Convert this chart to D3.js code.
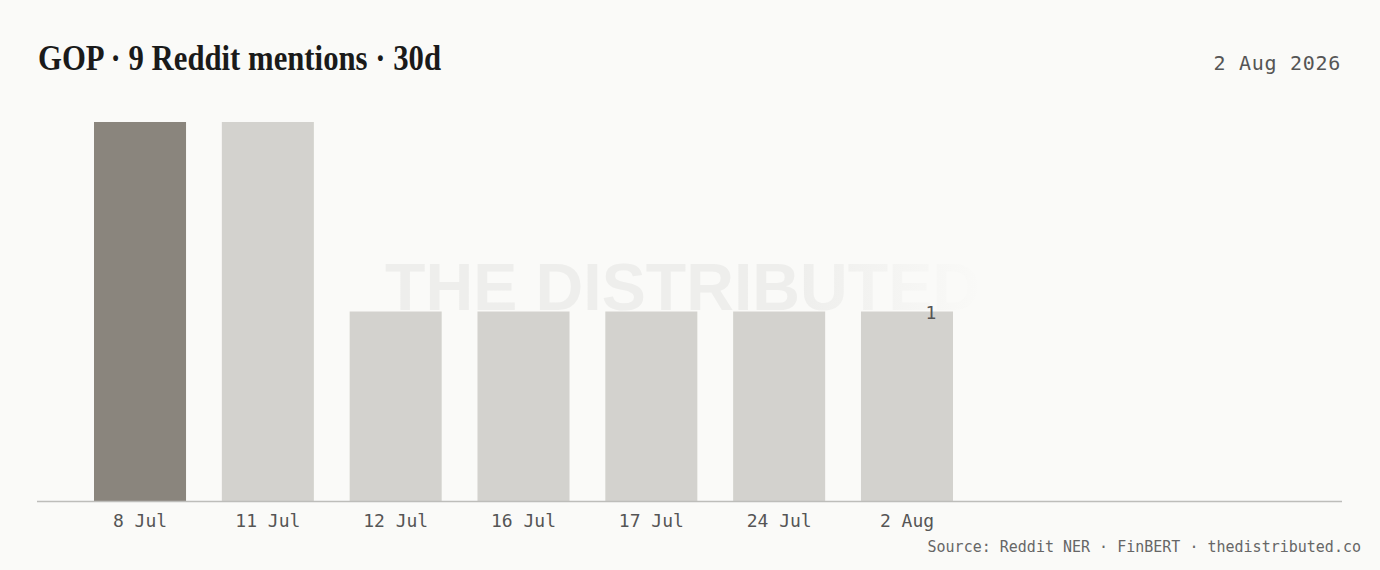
<!DOCTYPE html>
<html>
<head>
<meta charset="utf-8">
<script src="https://cdn.jsdelivr.net/npm/d3@7"></script>
<style>
  html, body { margin: 0; padding: 0; background: #fafaf8; }
  svg { display: block; }
</style>
</head>
<body>
<svg id="chart" width="1380" height="570"></svg>
<script>
// data
var dates = ["8 Jul", "11 Jul", "12 Jul", "16 Jul", "17 Jul", "24 Jul", "2 Aug"];
var mentions = [2, 2, 1, 1, 1, 1, 1];
var highlight = ["8 Jul"];
var titleText = "GOP \u00b7 9 Reddit mentions \u00b7 30d";
var dateText = "2 Aug 2026";
var sourceText = "Source: Reddit NER \u00b7 FinBERT \u00b7 thedistributed.co";

var svg = d3.select('#chart');
var mono = "'DejaVu Sans Mono', 'Liberation Mono', monospace";

var rows = dates.map((d, i) => ({ date: d, value: mentions[i] }));

var x = d3.scaleBand()
  .domain(dates)
  .range([94, 953])
  .paddingInner(0.28)
  .paddingOuter(0);

var y = d3.scaleLinear()
  .domain([0, d3.max(mentions)])
  .range([501, 122]);

// watermark, faded on the right
var defs = svg.append('defs');
var grad = defs.append('linearGradient')
  .attr('id', 'wm-fade')
  .attr('gradientUnits', 'userSpaceOnUse')
  .attr('x1', 385).attr('x2', 985).attr('y1', 0).attr('y2', 0);
grad.append('stop').attr('offset', '0%').attr('stop-color', '#eeeeec').attr('stop-opacity', 1);
grad.append('stop').attr('offset', '68%').attr('stop-color', '#eeeeec').attr('stop-opacity', 1);
grad.append('stop').attr('offset', '100%').attr('stop-color', '#eeeeec').attr('stop-opacity', 0);

svg.append('text')
  .attr('x', 385)
  .attr('y', 310)
  .attr('textLength', 595)
  .attr('lengthAdjust', 'spacingAndGlyphs')
  .attr('font-family', "'Liberation Sans Narrow', 'Liberation Sans', Arial, sans-serif")
  .attr('font-weight', 'bold')
  .attr('font-size', 67)
  .attr('fill', 'url(#wm-fade)')
  .text('THE DISTRIBUTED');

// title
svg.append('text')
  .attr('x', 38)
  .attr('y', 70)
  .attr('textLength', 403)
  .attr('lengthAdjust', 'spacingAndGlyphs')
  .attr('font-family', "'Liberation Serif', 'DejaVu Serif', serif")
  .attr('font-weight', 'bold')
  .attr('font-size', 36)
  .attr('fill', '#1a1a1a')
  .text(titleText);

svg.append('text')
  .attr('x', 1341)
  .attr('y', 70)
  .attr('text-anchor', 'end')
  .attr('font-family', mono)
  .attr('font-size', 20)
  .attr('letter-spacing', 0.7)
  .attr('fill', '#555')
  .text(dateText);

// bars
svg.selectAll('.bar')
  .data(rows)
  .enter()
  .append('rect')
    .classed('bar', true)
    .attr('x', d => x(d.date))
    .attr('y', d => y(d.value))
    .attr('width', x.bandwidth())
    .attr('height', d => y(0) - y(d.value))
    .attr('fill', d => highlight.includes(d.date) ? '#8a857d' : '#d3d2ce');

// baseline
svg.append('line')
  .attr('x1', 37).attr('x2', 1342)
  .attr('y1', 501.5).attr('y2', 501.5)
  .attr('stroke', '#bdbdba')
  .attr('stroke-width', 1.5);

// x axis labels
var xAxis = d3.axisBottom(x).tickSize(0).tickPadding(0);
var ax = svg.append('g')
  .attr('transform', 'translate(0,' + 514 + ')')
  .call(xAxis);
ax.select('.domain').remove();
ax.selectAll('text')
  .attr('dy', '0.71em')
  .attr('font-family', mono)
  .attr('font-size', 18)
  .attr('fill', '#555');

// value label on the latest bar
var last = rows[rows.length - 1];
svg.append('text')
  .attr('x', x(last.date) + x.bandwidth() - 22)
  .attr('y', y(last.value) + 7)
  .attr('text-anchor', 'middle')
  .attr('font-family', mono)
  .attr('font-size', 18)
  .attr('fill', '#555')
  .text(last.value);

// source
svg.append('text')
  .attr('x', 1361)
  .attr('y', 552)
  .attr('text-anchor', 'end')
  .attr('font-family', mono)
  .attr('font-size', 15)
  .attr('fill', '#666')
  .text(sourceText);
</script>
</body>
</html>
